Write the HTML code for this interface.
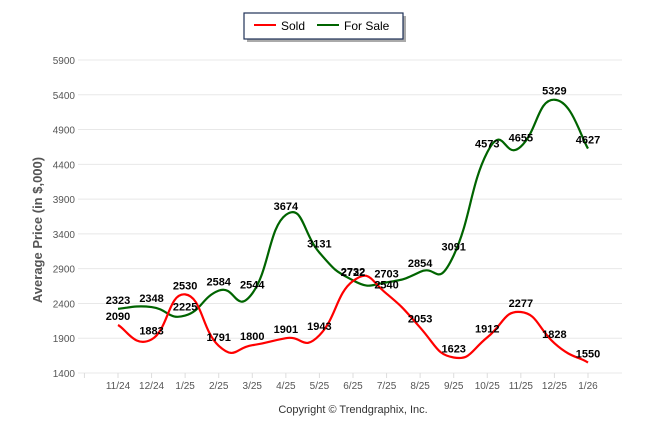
<!DOCTYPE html>
<html><head><meta charset="utf-8"><style>
body{margin:0;background:#fff;font-family:"Liberation Sans",sans-serif}
svg text{font-family:"Liberation Sans",sans-serif}
</style></head><body>
<svg id="c" width="646" height="434">
<g>
<rect x="247" y="16" width="159" height="26" fill="#aaa"/>
<rect x="244" y="13" width="159" height="26" fill="#fff" stroke="#1f3158" stroke-width="1.2"/>
<line x1="254" y1="25" x2="276" y2="25" stroke="#ff0000" stroke-width="2"/>
<text x="281" y="30" font-size="12">Sold</text>
<line x1="317" y1="25" x2="339" y2="25" stroke="#006400" stroke-width="2"/>
<text x="344" y="30" font-size="12">For Sale</text>
</g>
<text transform="translate(42,230) rotate(-90)" text-anchor="middle" font-size="13" font-weight="bold" fill="#555">Average Price (in $,000)</text>
<text x="353" y="413" text-anchor="middle" font-size="11" fill="#333">Copyright © Trendgraphix, Inc.</text>
<g id="grid"></g><g id="series"></g><g id="labels"></g>
</svg>
<script>
const categories=["11/24","12/24","1/25","2/25","3/25","4/25","5/25","6/25","7/25","8/25","9/25","10/25","11/25","12/25","1/26"];
const soldValues=[2090,1883,2530,1791,1800,1901,1943,2722,2540,2053,1623,1912,2277,1828,1550];
const forSaleValues=[2323,2348,2225,2584,2544,3674,3131,2732,2703,2854,3091,4573,4655,5329,4627];
const yTicks=[1400,1900,2400,2900,3400,3900,4400,4900,5400,5900];
const NS="http://www.w3.org/2000/svg";
const x0=118,dx=33.57,yBase=373,yTop=60,yMin=1400,yMax=5900;
const X=i=>x0+i*dx, Y=v=>yBase-(v-yMin)/(yMax-yMin)*(yBase-yTop);
function mk(t,a,p){const e=document.createElementNS(NS,t);for(const k in a)e.setAttribute(k,a[k]);p.appendChild(e);return e;}
const g=document.getElementById('grid');
yTicks.forEach(v=>{
 const l=mk('line',{x1:78,x2:622,y1:Y(v),y2:Y(v),stroke:'#e8e8e8'},g);
 
 
 const t=mk('text',{x:75,y:Y(v)+4,'text-anchor':'end','font-size':'10',fill:'#555'},g);t.textContent=v;
 
 
});
for(let i=-1;i<categories.length;i++){mk('line',{x1:X(i),x2:X(i),y1:yBase,y2:yBase+5,stroke:'#ddd'},g);}
categories.forEach((c,i)=>{
 const t=mk('text',{x:X(i),y:389,'text-anchor':'middle','font-size':'10',fill:'#555'},g);t.textContent=c;
 
 
});
function path(vals){
 const p=vals.map((v,i)=>[X(i),Y(v)]);let d='M'+p[0][0]+','+p[0][1];const k=0.3;
 for(let i=0;i<p.length-1;i++){const a=p[i-1]||p[i],b=p[i],c=p[i+1],e=p[i+2]||c;
  d+=` C${b[0]+(c[0]-a[0])*k/1.2},${b[1]+(c[1]-a[1])*k} ${c[0]-(e[0]-b[0])*k/1.2},${c[1]-(e[1]-b[1])*k} ${c[0]},${c[1]}`;}
 return d;}
const s=document.getElementById('series'),lb=document.getElementById('labels');
[[forSaleValues,'#006400','forsale'],[soldValues,'#ff0000','sold']].forEach(([vals,col,n])=>{
 const p=mk('path',{d:path(vals),fill:'none',stroke:col,'stroke-width':2.2},s);
 
 
 vals.forEach((v,i)=>{
  const t=mk('text',{x:X(i),y:Y(v)-5,'text-anchor':'middle','font-size':'11','font-weight':'bold',fill:'#000'},lb);t.textContent=v;
  
  
 });
});
</script>
</body></html>
